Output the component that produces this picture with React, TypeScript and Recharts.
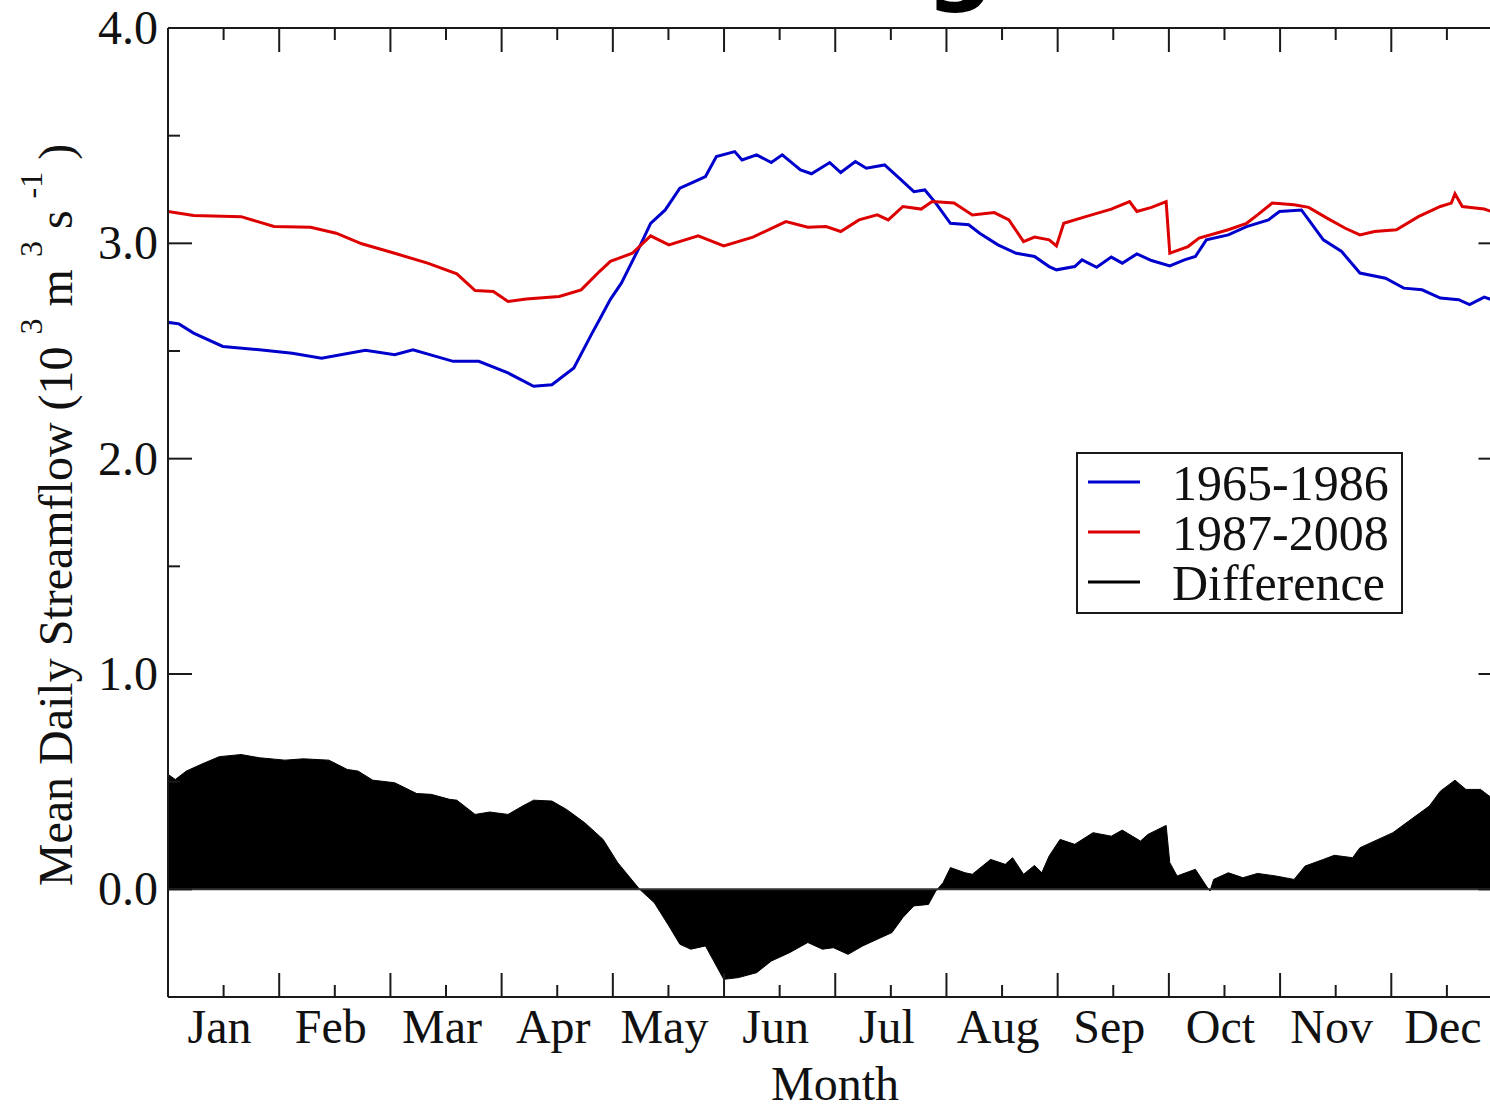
import {
  Area,
  ComposedChart,
  Legend,
  Line,
  ReferenceLine,
  XAxis,
  YAxis,
} from "recharts";

// tick labels
const monthLabels = ["Jan", "Feb", "Mar", "Apr", "May", "Jun", "Jul", "Aug", "Sep", "Oct", "Nov", "Dec"];
const flowTicks = [-0.5, 0, 0.5, 1, 1.5, 2, 2.5, 3, 3.5, 4];

// 1965-1986 mean daily streamflow (10^3 m^3/s), day of year
const earlyDays = [
  0, 3, 7, 15, 25, 34, 42, 54, 62, 67, 78, 85, 93, 100, 105, 111, 116, 118, 121, 124,
  129, 132, 136, 140, 144, 147, 150, 155, 157, 161, 165, 168, 173, 176, 181, 184, 188, 191, 196, 200,
  204, 207, 210, 214, 219, 222, 227, 232, 237, 241, 243, 248, 250, 254, 258, 261, 265, 269, 274, 278,
  281, 284, 290, 295, 301, 304, 310, 312, 316, 321, 326, 333, 338, 343, 348, 353, 356, 360, 362, 365,
];
const earlyFlow = [
  2.633, 2.626, 2.583, 2.521, 2.506, 2.49, 2.467, 2.503, 2.483, 2.506, 2.452, 2.452, 2.398, 2.336, 2.343, 2.421, 2.583, 2.645, 2.74, 2.815,
  2.985, 3.093, 3.155, 3.256, 3.287, 3.31, 3.403, 3.426, 3.387, 3.411, 3.375, 3.411, 3.341, 3.323, 3.375, 3.329, 3.38, 3.349, 3.364, 3.303,
  3.24, 3.248, 3.187, 3.093, 3.086, 3.047, 2.993, 2.954, 2.939, 2.892, 2.877, 2.892, 2.923, 2.889, 2.936, 2.908, 2.951, 2.92, 2.895, 2.923,
  2.939, 3.016, 3.039, 3.078, 3.109, 3.148, 3.155, 3.109, 3.016, 2.962, 2.862, 2.838, 2.792, 2.784, 2.746, 2.738, 2.715, 2.75, 2.738, 2.74,
];

// 1987-2008
const lateDays = [
  0, 7, 20, 29, 39, 46, 53, 62, 71, 79, 84, 89, 93, 98, 107, 113, 118, 121, 127, 132,
  137, 145, 152, 160, 169, 175, 180, 184, 189, 194, 197, 201, 206, 209, 215, 220, 226, 230, 234, 237,
  241, 243, 245, 251, 258, 263, 265, 269, 273, 274, 279, 282, 290, 295, 298, 302, 308, 312, 317, 322,
  326, 330, 336, 342, 348, 351, 352, 354, 360, 362, 365,
];
const lateFlow = [
  3.148, 3.129, 3.124, 3.078, 3.075, 3.047, 2.998, 2.954, 2.908, 2.858, 2.781, 2.776, 2.73, 2.741, 2.753, 2.784, 2.869, 2.916, 2.954, 3.035,
  2.993, 3.035, 2.988, 3.029, 3.101, 3.075, 3.078, 3.055, 3.109, 3.132, 3.109, 3.171, 3.159, 3.194, 3.187, 3.132, 3.143, 3.109, 3.008, 3.029,
  3.016, 2.988, 3.093, 3.124, 3.159, 3.194, 3.148, 3.167, 3.194, 2.954, 2.985, 3.024, 3.063, 3.093, 3.132, 3.187, 3.179, 3.167, 3.117, 3.07,
  3.039, 3.055, 3.063, 3.124, 3.171, 3.187, 3.23, 3.171, 3.159, 3.148, 3.15,
];

// Difference (1987-2008 minus 1965-1986)
const diffDays = [
  0, 2, 5, 9, 14, 20, 25, 32, 37, 44, 49, 52, 56, 62, 68, 72, 77, 79, 84, 88,
  93, 97, 100, 105, 109, 114, 119, 123, 126, 129, 133, 137, 140, 143, 147, 149, 152, 156, 161, 165,
  170, 175, 179, 182, 186, 190, 195, 198, 201, 204, 208, 210, 212, 214, 218, 220, 225, 229, 231, 234,
  237, 239, 241, 244, 248, 253, 258, 261, 266, 268, 273, 274, 276, 281, 284, 285, 286, 290, 294, 298,
  303, 308, 311, 316, 319, 324, 326, 331, 335, 340, 345, 348, 352, 355, 359, 362, 365,
];
const diffFlow = [
  0.534, 0.51, 0.549, 0.58, 0.616, 0.626, 0.611, 0.6, 0.606, 0.6, 0.557, 0.549, 0.507, 0.495, 0.445, 0.441, 0.418, 0.414, 0.348, 0.359,
  0.348, 0.387, 0.414, 0.41, 0.371, 0.309, 0.232, 0.124, 0.062, 0.0, -0.062, -0.17, -0.255, -0.278, -0.263, -0.325, -0.418, -0.41, -0.387, -0.333,
  -0.294, -0.247, -0.278, -0.271, -0.302, -0.263, -0.224, -0.201, -0.131, -0.077, -0.07, -0.008, 0.031, 0.101, 0.077, 0.07, 0.139, 0.116, 0.147, 0.07,
  0.111, 0.077, 0.155, 0.232, 0.209, 0.263, 0.247, 0.275, 0.224, 0.255, 0.297, 0.124, 0.062, 0.093, 0.015, -0.008, 0.046, 0.077, 0.054, 0.074,
  0.062, 0.046, 0.108, 0.139, 0.158, 0.147, 0.193, 0.232, 0.263, 0.325, 0.387, 0.456, 0.507, 0.464, 0.464, 0.425, 0.43,
];

const seriesNames = ["1965-1986", "1987-2008", "Difference"];
const seriesColors = ["#0000cc", "#dd0000", "#000000"];

const SERIF = '"Liberation Serif", "Times New Roman", serif';
const INK = "#1a1a1a";
const YEAR_DAYS = 365;
const dayTicks = Array.from({ length: 25 }, (_, i) => (i * YEAR_DAYS) / 24);

type Row = { day: number; early?: number; late?: number; diff?: number };

function buildRows(): Row[] {
  const byDay = new Map<number, Row>();
  const put = (days: number[], vals: number[], key: "early" | "late" | "diff") => {
    days.forEach((d, i) => {
      const row = byDay.get(d) ?? { day: d };
      row[key] = vals[i];
      byDay.set(d, row);
    });
  };
  put(earlyDays, earlyFlow, "early");
  put(lateDays, lateFlow, "late");
  put(diffDays, diffFlow, "diff");
  return [...byDay.values()].sort((a, b) => a.day - b.day);
}

const rows = buildRows();

const isMajorDay = (v: number) => Math.round((v * 24) / YEAR_DAYS) % 2 === 0;
const isMajorFlow = (v: number) => Math.abs(v - Math.round(v)) < 1e-6;

function BottomTick(props: any) {
  const { x, y, payload } = props;
  const idx = Math.round((payload.value * 24) / YEAR_DAYS);
  const major = idx % 2 === 0;
  return (
    <g>
      <line x1={x} x2={x} y1={y} y2={y - (major ? 24 : 12)} stroke={INK} strokeWidth={2} />
      {!major && (
        <text x={x - 4} y={y + 46} textAnchor="middle" fontSize={48} fontFamily={SERIF} fill="#111">
          {monthLabels[(idx - 1) / 2]}
        </text>
      )}
    </g>
  );
}

function TopTick(props: any) {
  const { x, y, payload } = props;
  const major = isMajorDay(payload.value);
  return <line x1={x} x2={x} y1={y} y2={y + (major ? 24 : 12)} stroke={INK} strokeWidth={2} />;
}

function LeftTick(props: any) {
  const { x, y, payload } = props;
  const major = isMajorFlow(payload.value);
  return (
    <g>
      <line x1={x} x2={x + (major ? 24 : 12)} y1={y} y2={y} stroke={INK} strokeWidth={2} />
      {major && (
        <text x={x - 10} y={y + 16} textAnchor="end" fontSize={48} fontFamily={SERIF} fill="#111">
          {payload.value.toFixed(1)}
        </text>
      )}
    </g>
  );
}

function RightTick(props: any) {
  const { x, y, payload } = props;
  const major = isMajorFlow(payload.value);
  return <line x1={x} x2={x - (major ? 24 : 12)} y1={y} y2={y} stroke={INK} strokeWidth={2} />;
}

function LegendBox() {
  return (
    <svg width={330} height={164} style={{ display: "block" }}>
      <rect x={1} y={1} width={325} height={160} fill="#fff" stroke={INK} strokeWidth={2} />
      {seriesNames.map((name, i) => (
        <g key={name}>
          <line x1={12} x2={64} y1={30 + i * 50} y2={30 + i * 50} stroke={seriesColors[i]} strokeWidth={3} />
          <text x={96} y={48 + i * 50} fontSize={50} fontFamily={SERIF} fill="#111">
            {name}
          </text>
        </g>
      ))}
    </svg>
  );
}

export default function App() {
  return (
    <div
      style={{
        position: "absolute",
        left: 0,
        top: 0,
        width: 1490,
        height: 1108,
        overflow: "hidden",
        background: "#fff",
      }}
    >
      <ComposedChart
        width={1540}
        height={1108}
        data={rows}
        margin={{ top: 27, left: 167, right: 36.5, bottom: 110 }}
      >
        <text x={960} y={-8} textAnchor="middle" fontSize={96} fontWeight="bold" fontFamily='"DejaVu Sans", sans-serif' fill="#000">
          g
        </text>
        <XAxis
          xAxisId="b"
          dataKey="day"
          type="number"
          domain={[0, YEAR_DAYS]}
          ticks={dayTicks}
          interval={0}
          height={1}
          tickSize={0}
          tickMargin={0}
          tickLine={false}
          axisLine={{ stroke: INK, strokeWidth: 2 }}
          tick={(p: any) => <BottomTick {...p} />}
          allowDataOverflow
        />
        <XAxis
          xAxisId="t"
          orientation="top"
          dataKey="day"
          type="number"
          domain={[0, YEAR_DAYS]}
          ticks={dayTicks}
          interval={0}
          height={1}
          tickSize={0}
          tickMargin={0}
          tickLine={false}
          axisLine={{ stroke: INK, strokeWidth: 2 }}
          tick={(p: any) => <TopTick {...p} />}
          allowDataOverflow
        />
        <YAxis
          yAxisId="l"
          type="number"
          domain={[-0.5, 4]}
          ticks={flowTicks}
          interval={0}
          width={1}
          tickSize={0}
          tickMargin={0}
          tickLine={false}
          axisLine={{ stroke: INK, strokeWidth: 2 }}
          tick={(p: any) => <LeftTick {...p} />}
          allowDataOverflow
        />
        <YAxis
          yAxisId="r"
          orientation="right"
          type="number"
          domain={[-0.5, 4]}
          ticks={flowTicks}
          interval={0}
          width={1}
          tickSize={0}
          tickMargin={0}
          tickLine={false}
          axisLine={{ stroke: INK, strokeWidth: 2 }}
          tick={(p: any) => <RightTick {...p} />}
          allowDataOverflow
        />
        <Area
          xAxisId="b"
          yAxisId="l"
          type="linear"
          dataKey="diff"
          name={seriesNames[2]}
          baseValue={0}
          connectNulls
          stroke="#000"
          strokeWidth={1}
          fill="#000"
          fillOpacity={1}
          dot={false}
          activeDot={false}
          isAnimationActive={false}
        />
        <ReferenceLine xAxisId="b" yAxisId="l" y={0} stroke="#333" strokeWidth={2} />
        <Line
          xAxisId="b"
          yAxisId="l"
          type="linear"
          dataKey="early"
          name={seriesNames[0]}
          stroke={seriesColors[0]}
          strokeWidth={3}
          connectNulls
          dot={false}
          activeDot={false}
          isAnimationActive={false}
        />
        <Line
          xAxisId="b"
          yAxisId="l"
          type="linear"
          dataKey="late"
          name={seriesNames[1]}
          stroke={seriesColors[1]}
          strokeWidth={3}
          connectNulls
          dot={false}
          activeDot={false}
          isAnimationActive={false}
        />
        <Legend
          layout="horizontal"
          verticalAlign="middle"
          align="center"
          content={() => <LegendBox />}
          wrapperStyle={{ left: 1076, top: 452, width: 330, height: 164 }}
        />
        <text
          x={0}
          y={0}
          transform="translate(72 515) rotate(-90)"
          textAnchor="middle"
          fontSize={48}
          fontFamily={SERIF}
          fill="#111"
        >
          <tspan>Mean Daily Streamflow (10 </tspan>
          <tspan dy={-30} fontSize={32}>3</tspan>
          <tspan dy={30}> m </tspan>
          <tspan dy={-30} fontSize={32}>3</tspan>
          <tspan dy={30}> s </tspan>
          <tspan dy={-30} fontSize={32}>-1</tspan>
          <tspan dy={30}> )</tspan>
        </text>
        <text x={835} y={1100} textAnchor="middle" fontSize={48} fontFamily={SERIF} fill="#111">
          Month
        </text>
      </ComposedChart>
    </div>
  );
}
